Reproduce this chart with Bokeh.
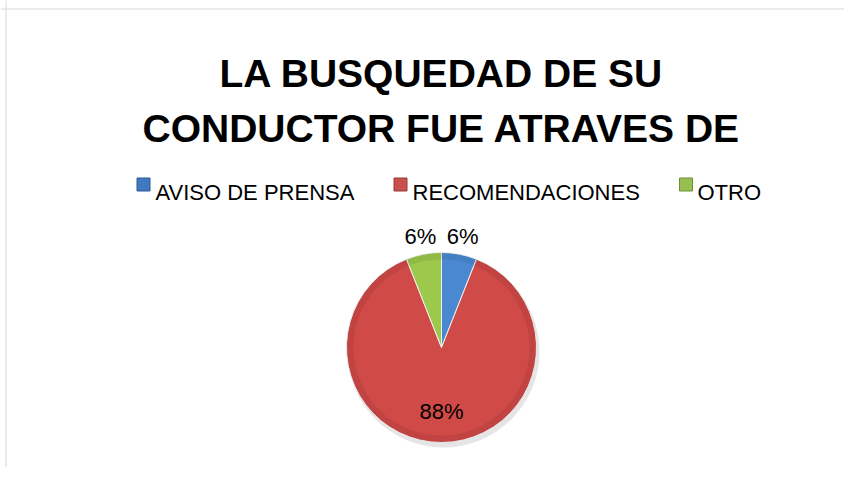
import math
from bokeh.plotting import figure
from bokeh.models import Range1d, Span, ColumnDataSource
from bokeh.core.properties import value
from bokeh.embed import file_html
from bokeh.resources import INLINE

# ---- data ----
categories = ["AVISO DE PRENSA", "RECOMENDACIONES", "OTRO"]
shares = [6, 88, 6]
pct_labels = ["6%", "88%", "6%"]
colors = ["#4a89d2", "#d04a47", "#9cc84b"]
legend_colors = ["#4079c0", "#c9504c", "#98c050"]
legend_edges = ["#2d5a94", "#9a3a37", "#6f8f36"]
title_lines = ["LA BUSQUEDAD DE SU", "CONDUCTOR FUE ATRAVES DE"]

# ---- layout (pixels) ----
W, H = 844, 467

def py(page_y):                    # y from top -> data y (from bottom)
    return H - page_y

CX, CY, R = 441, py(347), 95       # pie centre / radius

p = figure(width=W, height=H, output_backend="svg", toolbar_location=None,
           x_range=Range1d(0, W), y_range=Range1d(0, H), min_border=0)
p.axis.visible = False
p.grid.visible = False
p.outline_line_color = None
p.background_fill_color = "white"
p.border_fill_color = "white"

# chart frame (top and left edges visible in reference)
p.add_layout(Span(location=py(8.5), dimension="width", line_color="#d9d9d9", line_width=1))
p.add_layout(Span(location=5.5, dimension="height", line_color="#d9d9d9", line_width=1))

# ---- pie ----
total = float(sum(shares))
starts, ends, mids = [], [], []
cum = 0.0
for v in shares:
    f0, f1 = cum / total, (cum + v) / total
    a_start = math.pi / 2 - 2 * math.pi * f1
    a_end = math.pi / 2 - 2 * math.pi * f0
    starts.append(a_start)
    ends.append(a_end)
    mids.append((a_start + a_end) / 2)
    cum += v

src = ColumnDataSource(dict(start=starts, end=ends, color=colors))
# soft shadow
p.wedge(x=CX + 2, y=CY - 4, radius=R + 1, start_angle=0, end_angle=2 * math.pi,
        fill_color="black", fill_alpha=0.10, line_color=None)
p.wedge(x=CX, y=CY, radius=R, start_angle="start", end_angle="end",
        fill_color="color", line_color="#f2f2f2", line_width=1, source=src)
# darker rim for a slight 3D look
p.annular_wedge(x=CX, y=CY, inner_radius=R - 7, outer_radius=R, start_angle="start",
                end_angle="end", fill_color="black", fill_alpha=0.07, line_color=None,
                source=src)

# percentage labels
lx, ly = [], []
for v, m in zip(shares, mids):
    rf = 0.67 if v / total > 0.5 else 1.19
    lx.append(CX + rf * R * math.cos(m))
    ly.append(CY + rf * R * math.sin(m))
p.text(x=lx, y=ly, text=pct_labels, text_align="center", text_baseline="middle",
       text_font=value("Liberation Sans"), text_font_size="22px", text_color="black")

# ---- title ----
p.text(x=[CX, CX], y=[py(73), py(128)], text=title_lines, text_align="center",
       text_baseline="alphabetic", text_font=value("Liberation Sans"),
       text_font_style="bold", text_font_size="39px", text_color="black")

# ---- legend ----
LEG_SQ_X = [143, 400, 685.5]
LEG_TX_X = [155, 412, 697]
LEG_Y = py(184)
p.rect(x=LEG_SQ_X, y=[LEG_Y] * 3, width=13, height=13,
       fill_color=legend_colors, line_color=legend_edges, line_width=1)
p.text(x=LEG_TX_X, y=[py(192)] * 3, text=categories,
       text_align="left", text_baseline="alphabetic",
       text_font=value("Liberation Sans"), text_font_size="22px", text_color="black")

open("out.html", "w").write(file_html(p, INLINE))
